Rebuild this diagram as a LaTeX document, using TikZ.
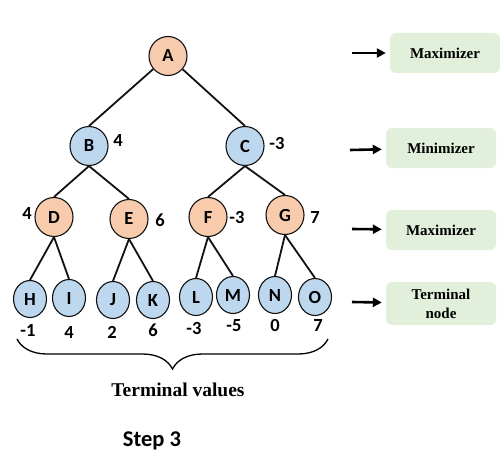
\documentclass[tikz,border=0pt]{standalone}
\usepackage{fontspec}
\setmainfont{Liberation Serif}
\newfontfamily\calibri{Carlito}
\definecolor{mmOrange}{HTML}{F8CBAD}
\definecolor{mmBlue}{HTML}{BDD7EE}
\definecolor{mmGreen}{HTML}{E2EFDA}
\definecolor{mmLine}{HTML}{111111}
\usetikzlibrary{positioning,arrows.meta,shapes.geometric,decorations.pathreplacing}
\newcommand{\nodefont}{\calibri\bfseries\fontsize{18.5}{20}\selectfont}

\begin{document}
\begin{tikzpicture}[x=1pt,y=-1pt,
  maxnode/.style={ellipse, draw=mmLine, fill=mmOrange, line width=1.1pt,
    minimum width=38pt, minimum height=39pt, inner sep=0pt, font=\nodefont},
  minnode/.style={maxnode, fill=mmBlue},
  leafnode/.style={maxnode, fill=mmBlue, minimum width=33pt, minimum height=37pt},
  val/.style={font=\nodefont, inner sep=0pt},
  edge/.style={line width=1.8pt, color=mmLine},
  level/.style={rounded corners=6pt, fill=mmGreen, minimum width=110pt,
    minimum height=40pt, align=center, font=\bfseries\fontsize{15}{19}\selectfont},
  arr/.style={-{Triangle[length=9pt,width=9pt]}, line width=2.6pt, shorten >=4pt}
]
  \useasboundingbox (0,0) rectangle (500,468);

  % tree
  \node[maxnode] (A) at (168,56) {A};
  \node[minnode] (B) at (89,146) {B};
  \node[minnode] (C) at (245,146) {C};
  \node[maxnode] (D) at (54,217) {D};
  \node[maxnode] (E) at (129,219) {E};
  \node[maxnode] (F) at (208,217) {F};
  \node[maxnode] (G) at (285,215) {G};
  \node[leafnode] (H) at (30,299) {H};
  \node[leafnode] (I) at (69,298) {I};
  \node[leafnode] (J) at (113,300) {J};
  \node[leafnode] (K) at (153,300) {K};
  \node[leafnode] (L) at (196,297) {L};
  \node[leafnode] (M) at (233,295) {M};
  \node[leafnode] (N) at (275,295) {N};
  \node[leafnode] (O) at (315,297) {O};

  \draw[edge] (A) -- (B.north);
  \draw[edge] (A) -- (C.north);
  \draw[edge] (B.south) -- (D.north);
  \draw[edge] (B.south) -- (E.north);
  \draw[edge] (C.south) -- (F.north);
  \draw[edge] (C.south) -- (G.north);
  \draw[edge] (D.south) -- (H.north);
  \draw[edge] (D.south) -- (I.north);
  \draw[edge] (E.south) -- (J.north);
  \draw[edge] (E.south) -- (K.north);
  \draw[edge] (F.south) -- (L.north);
  \draw[edge] (F.south) -- (M.north);
  \draw[edge] (G.south) -- (N.north);
  \draw[edge] (G.south) -- (O.north);

  % backed-up values
  \node[val] (vB) at (118,140) {4};
  \node[val] (vC) at (277,143) {-3};
  \node[val] (vD) at (27,213) {4};
  \node[val] (vE) at (160,220) {6};
  \node[val] (vF) at (237,217) {-3};
  \node[val] (vG) at (315,218) {7};

  % terminal values
  \node[val] (tH) at (28,330) {-1};
  \node[val] (tI) at (69,332) {4};
  \node[val] (tJ) at (112,332) {2};
  \node[val] (tK) at (153,330) {6};
  \node[val] (tL) at (194,328) {-3};
  \node[val] (tM) at (234,326) {-5};
  \node[val] (tN) at (275,325) {0};
  \node[val] (tO) at (318,325) {7};

  \coordinate (bl) at (17,339);
  \coordinate (br) at (328,339);
  \draw[line width=1.3pt, decorate, decoration={brace, mirror, amplitude=30pt}]
    (bl) -- (br);
  \node[font=\bfseries\fontsize{19.5}{24}\selectfont] (tv) at (178,390) {Terminal values};
  \node[font=\calibri\bfseries\fontsize{22.5}{26}\selectfont] (step) at (152,441) {Step 3};

  % level labels
  \node[level] (lv1) at (445,53) {Maximizer};
  \node[level] (lv2) at (441,148) {Minimizer};
  \node[level] (lv3) at (441,230) {Maximizer};
  \node[level, minimum height=43pt] (lv4) at (441,303.5) {Terminal\\node};

  \coordinate (a1) at (352,53);
  \coordinate (a2) at (350,150);
  \coordinate (a3) at (352,229);
  \coordinate (a4) at (352,302);
  \draw[arr] (a1) -- (lv1);
  \draw[arr] (a2) -- (lv2);
  \draw[arr] (a3) -- (lv3);
  \draw[arr] (a4) -- (lv4);
\end{tikzpicture}
\end{document}
